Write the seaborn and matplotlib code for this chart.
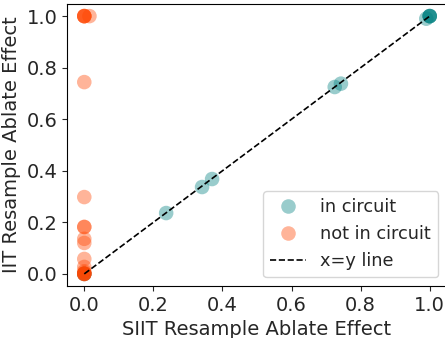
import numpy as np
import pandas as pd
import matplotlib
matplotlib.use("Agg")
import matplotlib.pyplot as plt
import seaborn as sns

# Resample-ablation effects per node: SIIT (x) vs IIT (y)
in_circuit_siit = [0.0, 0.0, 0.237, 0.341, 0.370, 0.725, 0.743, 0.99, 1.0, 1.0, 1.0, 1.0]
in_circuit_iit = [0.0, 0.0, 0.236, 0.337, 0.368, 0.725, 0.738, 0.99, 1.0, 1.0, 1.0, 1.0]

not_in_circuit_siit = [0.0, 0.0, 0.0, 0.0, 0.015, 0.0, 0.0, 0.0, 0.0, 0.0, 0.0,
                       0.0, 0.0, 0.0, 0.0, 0.0, 0.0, 0.0, 0.0]
not_in_circuit_iit = [1.0, 1.0, 1.0, 1.0, 1.0, 0.744, 0.298, 0.182, 0.182, 0.136,
                      0.12, 0.058, 0.027, 0.01, 0.004, 0.0, 0.0, 0.0, 0.0]

group_labels = ["in circuit", "not in circuit"]
group_colors = ["teal", "orangered"]

df = pd.DataFrame({
    "siit": in_circuit_siit + not_in_circuit_siit,
    "iit": in_circuit_iit + not_in_circuit_iit,
    "group": [group_labels[0]] * len(in_circuit_siit)
             + [group_labels[1]] * len(not_in_circuit_siit),
})

sns.set_style("ticks")
plt.rcParams["font.family"] = ["DejaVu Sans"]

fig = plt.figure(figsize=(4.45, 3.38), dpi=100)
ax = fig.add_axes([67 / 445, 52 / 338, 380 / 445, 282 / 338])

sns.scatterplot(data=df, x="siit", y="iit", hue="group", hue_order=group_labels,
                palette=dict(zip(group_labels, group_colors)), alpha=0.4, s=110,
                edgecolor="none", ax=ax)
ax.plot([0, 1], [0, 1], "k--", lw=1.2, label="x=y line")

ax.set_xlim(-0.05, 1.05)
ax.set_ylim(-0.047, 1.047)
ax.set_xticks(np.arange(0, 1.01, 0.2))
ax.set_yticks(np.arange(0, 1.01, 0.2))
ax.tick_params(labelsize=14)
ax.set_xlabel("SIIT Resample Ablate Effect", fontsize=14)
ax.set_ylabel("IIT Resample Ablate Effect", fontsize=14)
for sp in ax.spines.values():
    sp.set_visible(True)
    sp.set_color("black")

ax.legend(loc="lower right", fontsize=12.8, frameon=True)

fig.savefig("out.png", dpi=100)
